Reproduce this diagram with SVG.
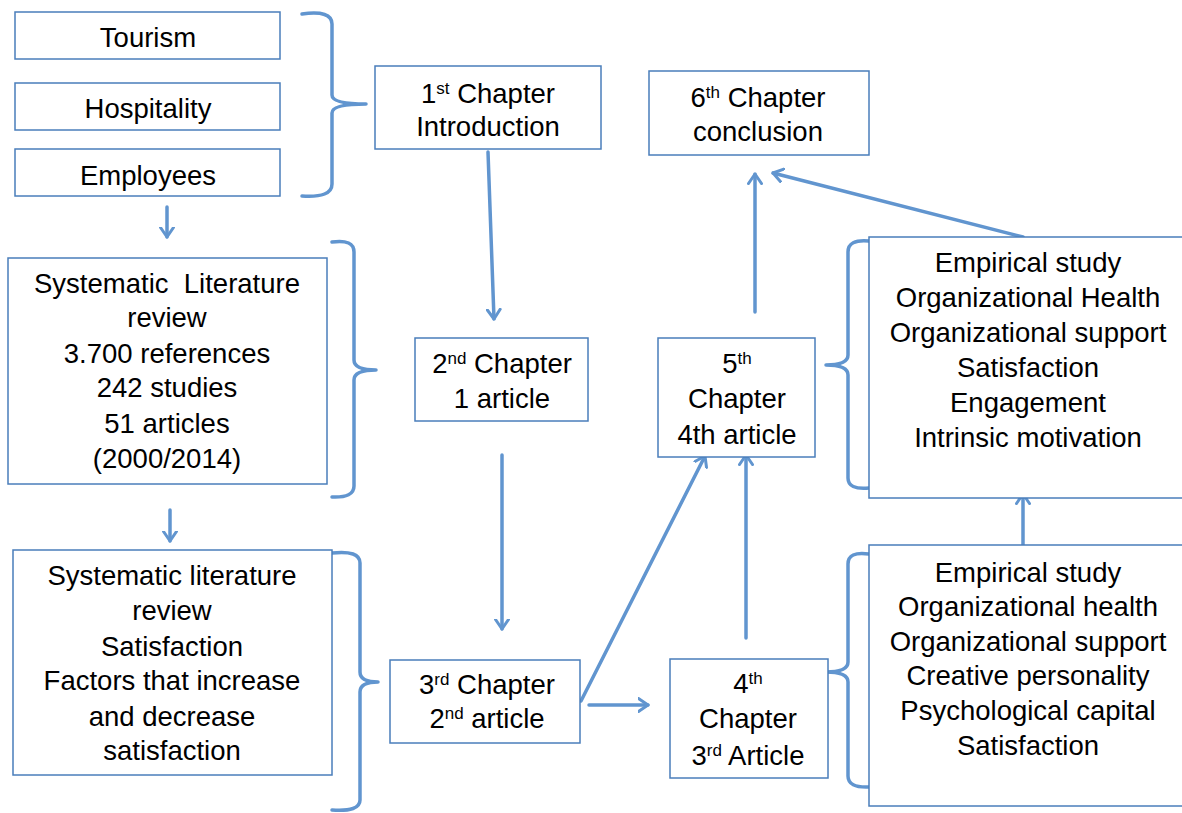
<svg xmlns="http://www.w3.org/2000/svg" width="1182" height="813" viewBox="0 0 1182 813">
<style>
.box{fill:#fff;stroke:#4a7ebb;stroke-width:1.5}
.t{font-family:"Liberation Sans",Arial,sans-serif;font-size:27.5px;fill:#000;text-anchor:middle}
.sup{font-size:17px}
.ln{fill:none;stroke:#6195cf;stroke-width:3.5;stroke-linecap:round}
.br{fill:none;stroke:#6195cf;stroke-width:3.5;stroke-linecap:round;stroke-linejoin:round}
</style>
<defs>
<marker id="ah" viewBox="0 0 12 16" refX="10.5" refY="8" markerWidth="12" markerHeight="16" markerUnits="userSpaceOnUse" orient="auto">
<path d="M1,1.5 L10.5,8 L1,14.5" fill="none" stroke="#6195cf" stroke-width="3" stroke-linecap="round" stroke-linejoin="round"/>
</marker>
</defs>
<rect width="1182" height="813" fill="#fff"/>
<g id="connectors">
<path class="ln" d="M167,207 L167,237" marker-end="url(#ah)"/>
<path class="ln" d="M170,510 L170,541" marker-end="url(#ah)"/>
<path class="ln" d="M488,152 L494,319" marker-end="url(#ah)"/>
<path class="ln" d="M502,455 L502,629" marker-end="url(#ah)"/>
<path class="ln" d="M589,705 L648,705" marker-end="url(#ah)"/>
<path class="ln" d="M581,701 L705,456" marker-end="url(#ah)"/>
<path class="ln" d="M746,638 L746,455" marker-end="url(#ah)"/>
<path class="ln" d="M755,312 L755,174" marker-end="url(#ah)"/>
<path class="ln" d="M1023,237 L773,173" marker-end="url(#ah)"/>
<path class="ln" d="M1023,545 L1023,494" marker-end="url(#ah)"/>
<path class="br" d="M302,14 Q332,10 332,24 L332,95 Q332,104 366,104 Q332,104 332,113 L332,184 Q332,198 302,196"/>
<path class="br" d="M332,242 Q354,239 354,252 L354,360 Q354,370 376,370 Q354,370 354,380 L354,486 Q354,498 332,497"/>
<path class="br" d="M332,553 Q360,550 360,563 L360,672 Q360,682 378,682 Q360,682 360,692 L360,800 Q360,812 332,810"/>
<path class="br" d="M869,241 Q848,239 848,252 L848,355 Q848,365 826,365 Q848,365 848,375 L848,478 Q848,490 869,488"/>
<path class="br" d="M869,554 Q848,551 848,564 L848,662 Q848,672 826,672 Q848,672 848,682 L848,776 Q848,788 869,787"/>
</g>
<g id="tourism"><rect class="box" x="15" y="12" width="265" height="47"/><text class="t" x="148" y="47">Tourism</text></g>
<g id="hospitality"><rect class="box" x="15" y="83" width="265" height="47"/><text class="t" x="148" y="118">Hospitality</text></g>
<g id="employees"><rect class="box" x="15" y="149" width="265" height="47"/><text class="t" x="148" y="185">Employees</text></g>
<g id="ch1"><rect class="box" x="375" y="66" width="226" height="83"/><text class="t" x="488" y="103">1<tspan class="sup" baseline-shift="super">st</tspan> Chapter</text><text class="t" x="488" y="136">Introduction</text></g>
<g id="ch6"><rect class="box" x="649" y="71" width="220" height="84"/><text class="t" x="758" y="107">6<tspan class="sup" baseline-shift="super">th</tspan> Chapter</text><text class="t" x="758" y="141">conclusion</text></g>
<g id="slr1"><rect class="box" x="8" y="258" width="319" height="226"/>
<text class="t" x="167" y="293" xml:space="preserve">Systematic  Literature</text>
<text class="t" x="167" y="327">review</text>
<text class="t" x="167" y="363">3.700 references</text>
<text class="t" x="167" y="397">242 studies</text>
<text class="t" x="167" y="433">51 articles</text>
<text class="t" x="167" y="468">(2000/2014)</text></g>
<g id="slr2"><rect class="box" x="13" y="550" width="319" height="225"/>
<text class="t" x="172" y="585">Systematic literature</text>
<text class="t" x="172" y="620">review</text>
<text class="t" x="172" y="656">Satisfaction</text>
<text class="t" x="172" y="690">Factors that increase</text>
<text class="t" x="172" y="726">and decrease</text>
<text class="t" x="172" y="760">satisfaction</text></g>
<g id="ch2"><rect class="box" x="415" y="338" width="173" height="83"/><text class="t" x="502" y="373">2<tspan class="sup" baseline-shift="super">nd</tspan> Chapter</text><text class="t" x="502" y="408">1 article</text></g>
<g id="ch5"><rect class="box" x="658" y="338" width="157" height="119"/><text class="t" x="737" y="373">5<tspan class="sup" baseline-shift="super">th</tspan></text><text class="t" x="737" y="408">Chapter</text><text class="t" x="737" y="444">4th article</text></g>
<g id="ch3"><rect class="box" x="390" y="660" width="190" height="83"/><text class="t" x="487" y="694">3<tspan class="sup" baseline-shift="super">rd</tspan> Chapter</text><text class="t" x="487" y="728">2<tspan class="sup" baseline-shift="super">nd</tspan> article</text></g>
<g id="ch4"><rect class="box" x="670" y="659" width="158" height="119"/><text class="t" x="748" y="693">4<tspan class="sup" baseline-shift="super">th</tspan></text><text class="t" x="748" y="728">Chapter</text><text class="t" x="748" y="765">3<tspan class="sup" baseline-shift="super">rd</tspan> Article</text></g>
<g id="emp1"><rect class="box" x="869" y="237" width="320" height="261"/>
<text class="t" x="1028" y="272">Empirical study</text>
<text class="t" x="1028" y="307">Organizational Health</text>
<text class="t" x="1028" y="342">Organizational support</text>
<text class="t" x="1028" y="377">Satisfaction</text>
<text class="t" x="1028" y="412">Engagement</text>
<text class="t" x="1028" y="447">Intrinsic motivation</text></g>
<g id="emp2"><rect class="box" x="869" y="545" width="320" height="261"/>
<text class="t" x="1028" y="582">Empirical study</text>
<text class="t" x="1028" y="616">Organizational health</text>
<text class="t" x="1028" y="651">Organizational support</text>
<text class="t" x="1028" y="685">Creative personality</text>
<text class="t" x="1028" y="720">Psychological capital</text>
<text class="t" x="1028" y="755">Satisfaction</text></g>
</svg>
